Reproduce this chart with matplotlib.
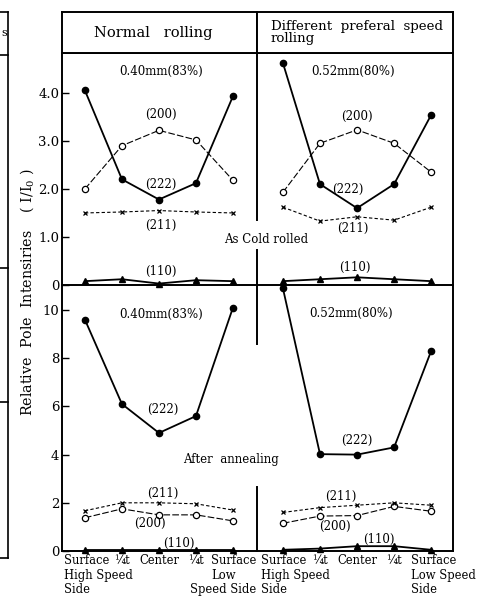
import numpy as np
import matplotlib.pyplot as plt
from matplotlib.lines import Line2D
import matplotlib.transforms as mtransforms

plt.rcParams['font.family'] = ['DejaVu Serif']
plt.rcParams['mathtext.fontset'] = 'dejavuserif'

# positions across the sheet thickness
pos = [0, 1, 2, 3, 4]

# As cold rolled, normal rolling
cr_n_222 = [4.05, 2.20, 1.78, 2.12, 3.93]
cr_n_200 = [2.00, 2.90, 3.22, 3.02, 2.18]
cr_n_211 = [1.50, 1.52, 1.55, 1.52, 1.50]
cr_n_110 = [0.08, 0.12, 0.03, 0.10, 0.08]

# As cold rolled, different peripheral speed rolling
cr_d_222 = [4.62, 2.10, 1.60, 2.10, 3.54]
cr_d_200 = [1.93, 2.95, 3.23, 2.95, 2.35]
cr_d_211 = [1.62, 1.33, 1.42, 1.35, 1.62]
cr_d_110 = [0.08, 0.12, 0.16, 0.12, 0.08]

# After annealing, normal rolling
an_n_222 = [9.6, 6.1, 4.9, 5.6, 10.1]
an_n_211 = [1.67, 2.0, 2.0, 1.96, 1.70]
an_n_200 = [1.38, 1.75, 1.50, 1.50, 1.25]
an_n_110 = [0.05, 0.05, 0.05, 0.05, 0.05]

# After annealing, different peripheral speed rolling
an_d_222 = [10.9, 4.02, 4.0, 4.3, 8.3]
an_d_211 = [1.60, 1.80, 1.90, 2.00, 1.90]
an_d_200 = [1.15, 1.45, 1.47, 1.85, 1.65]
an_d_110 = [0.05, 0.10, 0.20, 0.20, 0.05]

W, H = 480, 598
fig = plt.figure(figsize=(W / 100, H / 100), dpi=100)


def box(x0, y0, x1, y1):
    return [x0 / W, 1 - y1 / H, (x1 - x0) / W, (y1 - y0) / H]


def fline(xs, ys, lw=1.2):
    fig.add_artist(Line2D([x / W for x in xs], [1 - y / H for y in ys],
                          color='black', lw=lw, transform=fig.transFigure))


LW = 1.4
ax_ul = fig.add_axes(box(62, 53, 257, 285))
ax_ur = fig.add_axes(box(257, 53, 453, 285))
ax_ll = fig.add_axes(box(62, 285, 257, 551))
ax_lr = fig.add_axes(box(257, 285, 453, 551))
hd_l = fig.add_axes(box(62, 12, 257, 53))
hd_r = fig.add_axes(box(257, 12, 453, 53))

for h in (hd_l, hd_r):
    h.set_xticks([])
    h.set_yticks([])
    for s in h.spines.values():
        s.set_linewidth(LW)
hd_l.text(0.47, 0.5, "Normal   rolling", ha='center', va='center',
          fontsize=10.5, transform=hd_l.transAxes)
hd_r.text(0.07, 0.5, "Different  preferal  speed\nrolling", ha='left', va='center',
          fontsize=9.6, linespacing=0.95, transform=hd_r.transAxes)


def draw(ax, a222, a200, a211, a110):
    ax.plot(pos, a222, '-', color='black', lw=1.3, marker='o', ms=4.5, clip_on=False)
    ax.plot(pos, a200, color='black', lw=0.8, dashes=(6, 2), marker='o', ms=4.5,
            mfc='white', mew=0.9, clip_on=False)
    ax.plot(pos, a211, color='black', lw=0.8, dashes=(3, 2), marker='x', ms=3.5,
            mew=0.9, clip_on=False)
    ax.plot(pos, a110, '-', color='black', lw=1.3, marker='^', ms=4.5, clip_on=False)


draw(ax_ul, cr_n_222, cr_n_200, cr_n_211, cr_n_110)
draw(ax_ur, cr_d_222, cr_d_200, cr_d_211, cr_d_110)
draw(ax_ll, an_n_222, an_n_200, an_n_211, an_n_110)
draw(ax_lr, an_d_222, an_d_200, an_d_211, an_d_110)

for ax in (ax_ul, ax_ll):
    ax.set_xlim(-0.62, 4.65)
for ax in (ax_ur, ax_lr):
    ax.set_xlim(-0.70, 4.59)
ax_ul.set_ylim(0, 4.83)
ax_ur.set_ylim(0, 4.83)
ax_ll.set_ylim(0, 11.04)
ax_lr.set_ylim(0, 11.04)

for ax in (ax_ul, ax_ur, ax_ll, ax_lr):
    ax.set_xticks([])
    for s in ax.spines.values():
        s.set_linewidth(LW)
    ax.patch.set_alpha(0)

ax_ul.set_yticks([0, 1, 2, 3, 4], ['0', '1.0', '2.0', '3.0', '4.0'])
ax_ll.set_yticks([0, 2, 4, 6, 8, 10])
for ax in (ax_ul, ax_ll):
    ax.tick_params(axis='y', direction='in', length=5, width=1.0, pad=2, labelsize=9.5)
    ax.spines['right'].set_visible(False)
ax_ll.spines['top'].set_visible(False)
for ax in (ax_ur, ax_lr):
    ax.set_yticks([])
    ax.spines['left'].set_visible(False)
ax_lr.spines['top'].set_visible(False)

# broken middle divider
ax_ur.axvline(-0.70, 0.28, 1.0, color='black', lw=LW, clip_on=False)
ax_ur.axvline(-0.70, 0.0, 0.15, color='black', lw=LW, clip_on=False)
ax_lr.axvline(-0.70, 0.78, 1.0, color='black', lw=LW, clip_on=False)
ax_lr.axvline(-0.70, 0.0, 0.24, color='black', lw=LW, clip_on=False)

fs = 8.5
# upper left annotations
ax_ul.text(2.05, 4.45, "0.40mm(83%)", ha='center', va='center', fontsize=fs)
ax_ul.text(2.05, 3.56, "(200)", ha='center', va='center', fontsize=fs)
ax_ul.text(2.05, 2.1, "(222)", ha='center', va='center', fontsize=fs)
ax_ul.text(2.05, 1.23, "(211)", ha='center', va='center', fontsize=fs)
ax_ul.text(2.05, 0.28, "(110)", ha='center', va='center', fontsize=fs)
# upper right annotations
ax_ur.text(1.9, 4.45, "0.52mm(80%)", ha='center', va='center', fontsize=fs)
ax_ur.text(2.0, 3.5, "(200)", ha='center', va='center', fontsize=fs)
ax_ur.text(1.75, 1.98, "(222)", ha='center', va='center', fontsize=fs)
ax_ur.text(1.88, 1.18, "(211)", ha='center', va='center', fontsize=fs)
ax_ur.text(1.95, 0.36, "(110)", ha='center', va='center', fontsize=fs)
ax_ur.text(-0.46, 0.94, "As Cold rolled", ha='center', va='center', fontsize=fs)
# lower left annotations
ax_ll.text(2.05, 9.8, "0.40mm(83%)", ha='center', va='center', fontsize=fs)
ax_ll.text(2.1, 5.88, "(222)", ha='center', va='center', fontsize=fs)
ax_ll.text(2.1, 2.4, "(211)", ha='center', va='center', fontsize=fs)
ax_ll.text(1.75, 1.14, "(200)", ha='center', va='center', fontsize=fs)
ax_ll.text(2.55, 0.32, "(110)", ha='center', va='center', fontsize=fs)
ax_ll.text(3.95, 3.8, "After  annealing", ha='center', va='center', fontsize=fs)
# lower right annotations
ax_lr.text(1.85, 9.85, "0.52mm(80%)", ha='center', va='center', fontsize=fs)
ax_lr.text(2.0, 4.6, "(222)", ha='center', va='center', fontsize=fs)
ax_lr.text(1.55, 2.26, "(211)", ha='center', va='center', fontsize=fs)
ax_lr.text(1.4, 1.0, "(200)", ha='center', va='center', fontsize=fs)
ax_lr.text(2.6, 0.46, "(110)", ha='center', va='center', fontsize=fs)

# position labels under the panels, one text per printed line
rows = [-0.012, -0.066, -0.120]
bfs = 8.3
for ax in (ax_ll, ax_lr):
    tr = mtransforms.blended_transform_factory(ax.transData, ax.transAxes)
    x0 = 0.008 if ax is ax_ll else 0.022
    for txt, yy in zip(["Surface", "High Speed", "Side"], rows):
        ax.text(x0, yy, txt, transform=ax.transAxes, ha='left', va='top', fontsize=bfs)
    ax.text(1, rows[0], "¼t", transform=tr, ha='center', va='top', fontsize=bfs)
    ax.text(2, rows[0], "Center", transform=tr, ha='center', va='top', fontsize=bfs)
    ax.text(3, rows[0], "¼t", transform=tr, ha='center', va='top', fontsize=bfs)

ax_ll.text(0.997, rows[0], "Surface", transform=ax_ll.transAxes, ha='right', va='top', fontsize=bfs)
ax_ll.text(3.75, rows[1], "Low", transform=mtransforms.blended_transform_factory(
    ax_ll.transData, ax_ll.transAxes), ha='center', va='top', fontsize=bfs)
ax_ll.text(0.997, rows[2], "Speed Side", transform=ax_ll.transAxes, ha='right', va='top', fontsize=bfs)
tr_r = mtransforms.blended_transform_factory(ax_lr.transData, ax_lr.transAxes)
for txt, yy in zip(["Surface", "Low Speed", "Side"], rows):
    ax_lr.text(3.46, yy, txt, transform=tr_r, ha='left', va='top', fontsize=bfs)

fig.text(27 / W, 1 - 292 / H, r"Relative  Pole  Intensiries    ( $\mathregular{I/I_0}$ )",
         rotation=90, ha='center', va='center', fontsize=10.3)

# edge of the neighbouring figure in the scan
fline([8, 8], [12, 558])
for yy in (12, 55, 268, 402, 558):
    fline([0, 8], [yy, yy])
fig.text(1 / W, 1 - 33 / H, "s", fontsize=8, va='center')

plt.savefig("out.png", dpi=100)
